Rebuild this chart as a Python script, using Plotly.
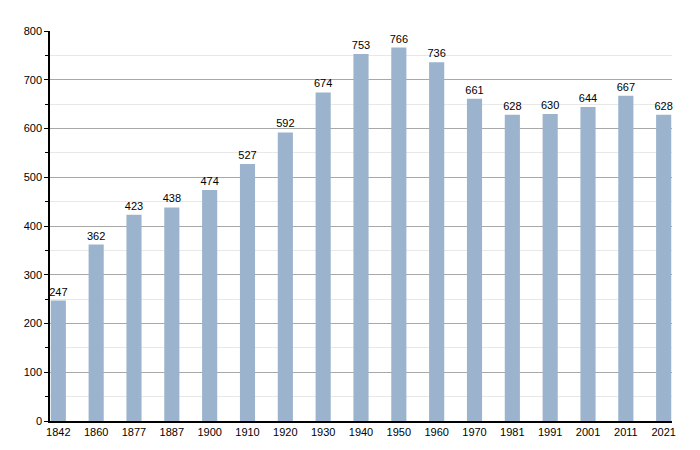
import plotly.graph_objects as go

years = ["1842", "1860", "1877", "1887", "1900", "1910", "1920", "1930", "1940",
         "1950", "1960", "1970", "1981", "1991", "2001", "2011", "2021"]
population = [247, 362, 423, 438, 474, 527, 592, 674, 753, 766, 736, 661, 628, 630, 644, 667, 628]
y_ticks = [0, 100, 200, 300, 400, 500, 600, 700, 800]

fig = go.Figure(go.Bar(
    x=years, y=population,
    text=[str(v) for v in population],
    textposition="outside",
    constraintext="none",
    textfont=dict(color="black", size=11, family="Liberation Sans, Arial, sans-serif"),
    marker=dict(color="#9bb3cc", line=dict(width=0)),
    width=0.4,
    cliponaxis=False,
))

# page body adds an 8px offset, so margins are shifted accordingly
fig.update_layout(
    width=700, height=450,
    margin=dict(l=42, r=36, t=23, b=37, autoexpand=False),
    paper_bgcolor="white", plot_bgcolor="white",
    font=dict(family="Liberation Sans, Arial, sans-serif", size=11, color="black"),
    showlegend=False,
    bargap=0.6,
)
fig.update_xaxes(
    type="category", range=[-0.22, 16.22], automargin=False,
    showline=True, linecolor="black", linewidth=1.5,
    ticks="", showgrid=False, tickfont=dict(size=11),
)
fig.update_yaxes(
    range=[0, 800], tickvals=y_ticks, automargin=False,
    showline=True, linecolor="black", linewidth=1.5,
    ticks="outside", ticklen=4, tickcolor="black",
    showgrid=True, gridcolor="#a8a8a8", gridwidth=1,
    zeroline=False,
    minor=dict(dtick=50, showgrid=True, gridcolor="#e8e8e8", ticks="outside", ticklen=3, tickcolor="black"),
    tickfont=dict(size=11),
)

fig.write_html("out.html")
